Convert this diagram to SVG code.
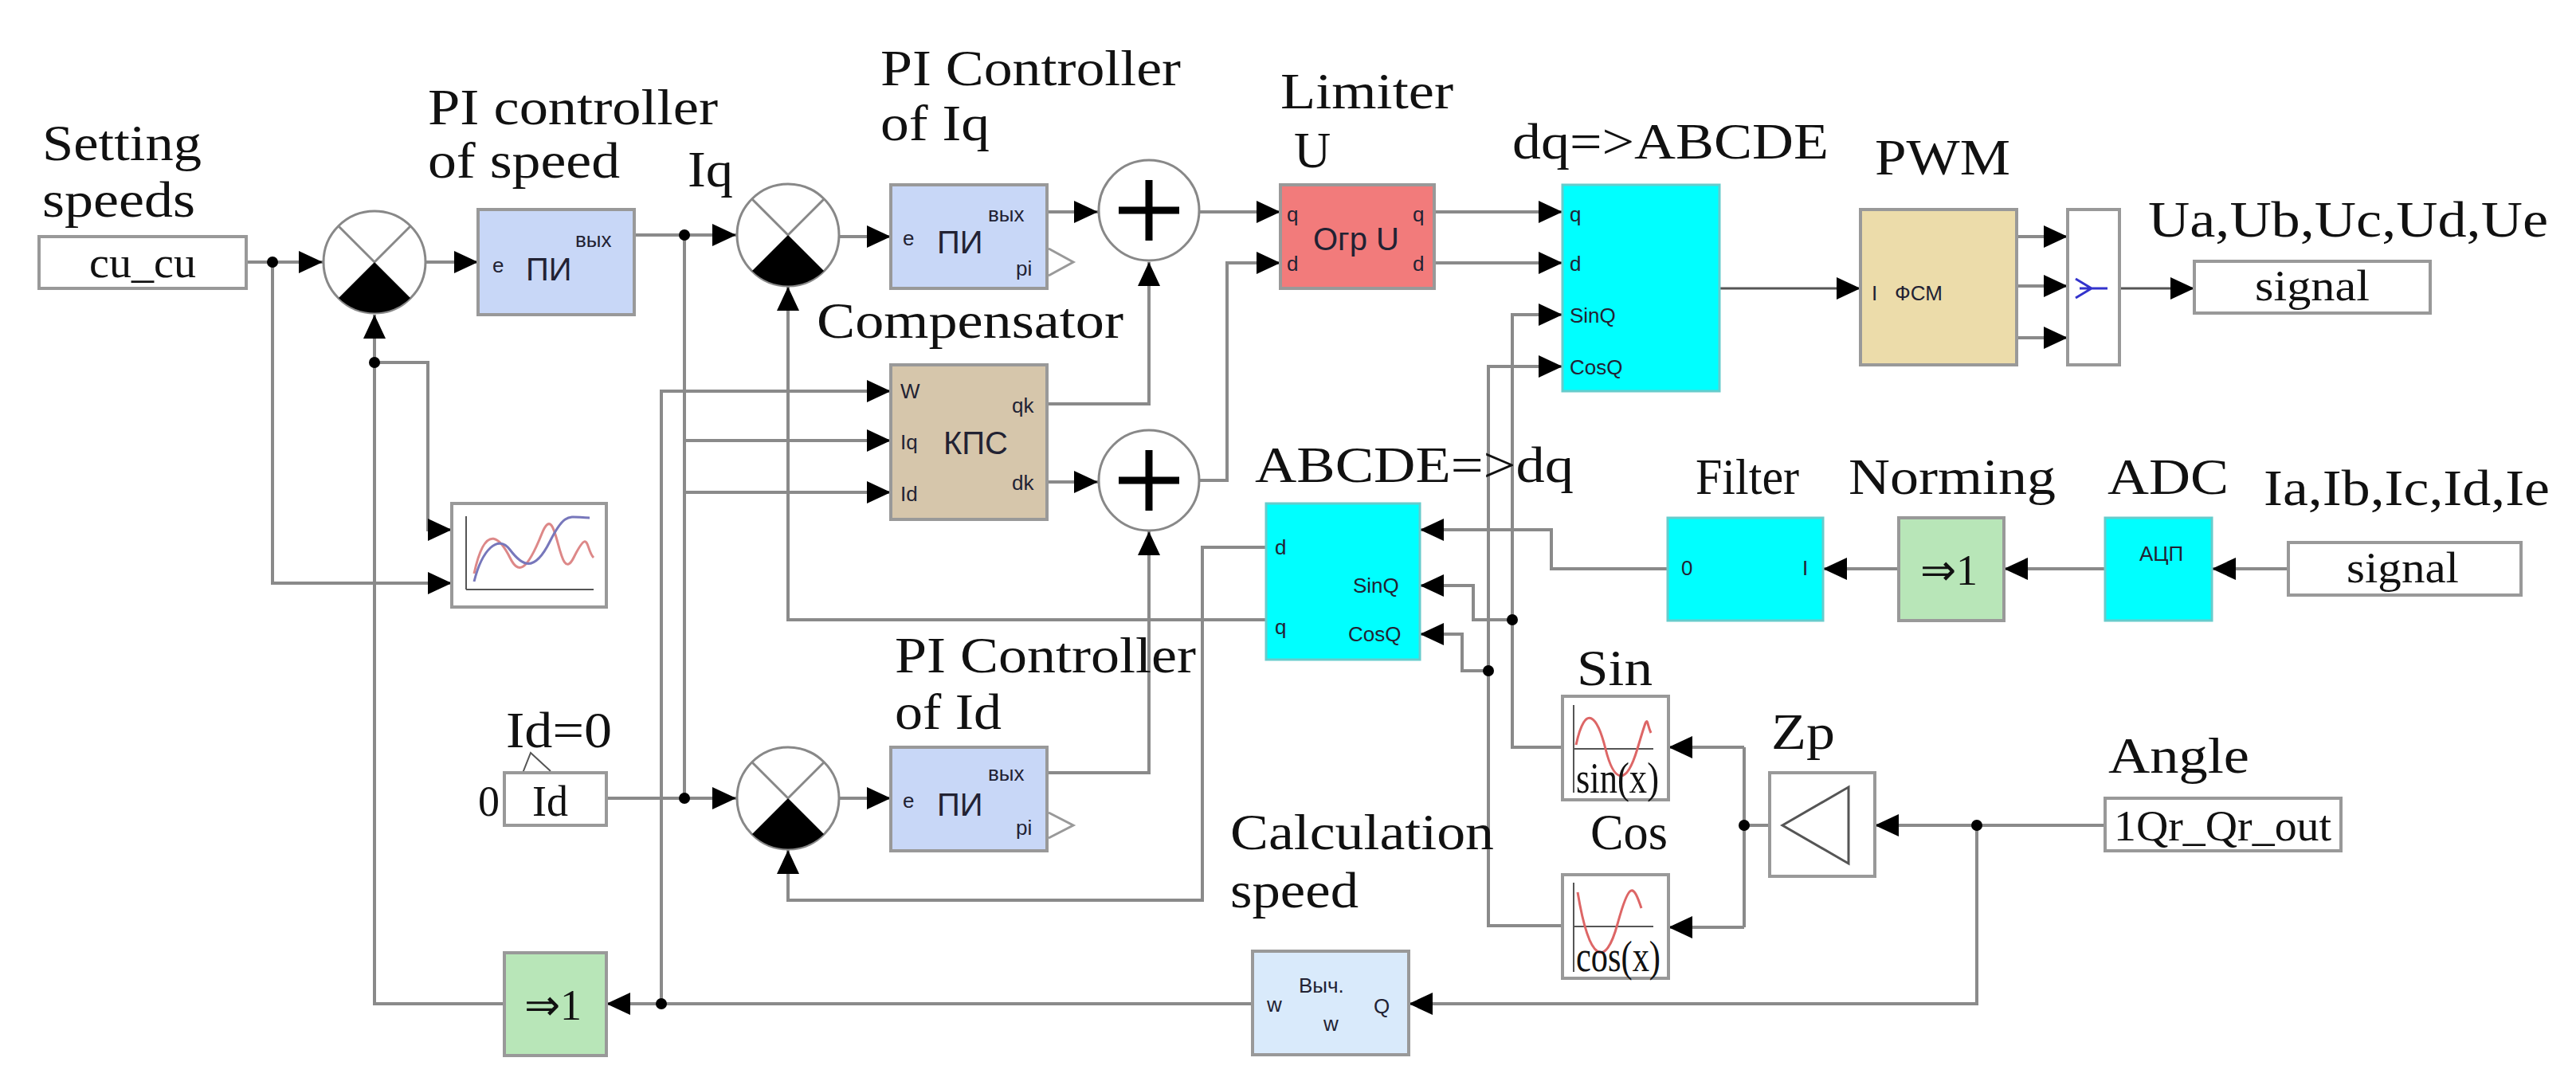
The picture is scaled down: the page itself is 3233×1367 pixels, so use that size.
<svg xmlns="http://www.w3.org/2000/svg" width="3233" height="1367" viewBox="0 0 3233 1367">
<style>
.t{font-family:"Liberation Serif",serif;font-size:64px;fill:#111}
.bt{font-family:"Liberation Serif",serif;font-size:54px;fill:#111}
.s{font-family:"Liberation Sans",sans-serif;font-size:26px;fill:#223}
.m{font-family:"Liberation Sans",sans-serif;font-size:40px;fill:#223}
.w{fill:none;stroke:#8a8a8a;stroke-width:4}
.wd{fill:none;stroke:#555;stroke-width:3}
.box{stroke:#999;stroke-width:4}
</style>
<defs>
<marker id="a" markerUnits="userSpaceOnUse" markerWidth="30" markerHeight="28" refX="30" refY="14" orient="auto"><path d="M0,0 L30,14 L0,28 z" fill="#000"/></marker>
<g id="sum"><circle r="64" fill="#fff" stroke="#888" stroke-width="3"/><path d="M0,0 L-45,-45 M0,0 L45,-45" stroke="#888" stroke-width="3"/><path d="M0,0 L-45,45 A64,64 0 0 0 45,45 Z" fill="#000"/></g>
<g id="plus"><circle r="63" fill="#fff" stroke="#888" stroke-width="3"/><path d="M-38,0 H38 M0,-38 V38" stroke="#000" stroke-width="9"/></g>
</defs>
<rect width="3233" height="1367" fill="#fff"/>

<g id="connectors">
<path class="w" d="M309,329 H405" marker-end="url(#a)"/>
<path class="w" d="M534,329 H600" marker-end="url(#a)"/>
<path class="w" d="M342,329 V732 H567" marker-end="url(#a)"/>
<path class="w" d="M470,455 H537 V665 H567" marker-end="url(#a)"/>
<path class="w" d="M633,1260 H470 V395" marker-end="url(#a)"/>
<path class="w" d="M796,295 H924" marker-end="url(#a)"/>
<path class="w" d="M1053,297 H1118" marker-end="url(#a)"/>
<path class="w" d="M1314,266 H1378" marker-end="url(#a)"/>
<path class="w" d="M1506,266 H1607" marker-end="url(#a)"/>
<path class="w" d="M1314,507 H1442 V329" marker-end="url(#a)"/>
<path class="w" d="M1314,605 H1378" marker-end="url(#a)"/>
<path class="w" d="M1506,603 H1540 V330 H1607" marker-end="url(#a)"/>
<path class="w" d="M1314,970 H1442 V667" marker-end="url(#a)"/>
<path class="w" d="M859,295 V1002"/>
<path class="w" d="M859,553 H1118" marker-end="url(#a)"/>
<path class="w" d="M859,618 H1118" marker-end="url(#a)"/>
<path class="w" d="M830,1260 V491 H1118" marker-end="url(#a)"/>
<path class="w" d="M1589,778 H989 V360" marker-end="url(#a)"/>
<path class="w" d="M761,1002 H924" marker-end="url(#a)"/>
<path class="w" d="M1053,1002 H1118" marker-end="url(#a)"/>
<path class="w" d="M1589,687 H1509 V1130 H989 V1067" marker-end="url(#a)"/>
<path class="w" d="M1800,266 H1961" marker-end="url(#a)"/>
<path class="w" d="M1800,330 H1961" marker-end="url(#a)"/>
<path class="w" d="M1961,938 H1898 V395 H1961" marker-end="url(#a)"/>
<path class="w" d="M1961,1162 H1868 V460 H1961" marker-end="url(#a)"/>
<path class="w" d="M1898,778 H1849 V735 H1782" marker-end="url(#a)"/>
<path class="w" d="M1868,842 H1835 V796 H1782" marker-end="url(#a)"/>
<path class="w" d="M2093,714 H1947 V665 H1782" marker-end="url(#a)"/>
<path class="wd" d="M2158,362 H2335" marker-end="url(#a)"/>
<path class="w" d="M2531,297 H2595" marker-end="url(#a)"/>
<path class="w" d="M2531,359 H2595" marker-end="url(#a)"/>
<path class="w" d="M2531,424 H2595" marker-end="url(#a)"/>
<path class="wd" d="M2660,362 H2754" marker-end="url(#a)"/>
<path class="w" d="M2383,714 H2288" marker-end="url(#a)"/>
<path class="w" d="M2642,714 H2515" marker-end="url(#a)"/>
<path class="w" d="M2872,714 H2776" marker-end="url(#a)"/>
<path class="w" d="M2642,1036 H2353" marker-end="url(#a)"/>
<path class="w" d="M2221,1036 H2189"/>
<path class="w" d="M2189,938 V1164"/>
<path class="w" d="M2189,938 H2094" marker-end="url(#a)"/>
<path class="w" d="M2189,1164 H2094" marker-end="url(#a)"/>
<path class="w" d="M2481,1036 V1260 H1768" marker-end="url(#a)"/>
<path class="w" d="M1572,1260 H761" marker-end="url(#a)"/>
<g fill="#000">
<circle cx="342" cy="329" r="7"/><circle cx="470" cy="455" r="7"/><circle cx="859" cy="295" r="7"/>
<circle cx="859" cy="1002" r="7"/><circle cx="830" cy="1260" r="7"/><circle cx="1898" cy="778" r="7"/>
<circle cx="1868" cy="842" r="7"/><circle cx="2189" cy="1036" r="7"/><circle cx="2481" cy="1036" r="7"/>
</g>
</g>

<g id="setting"><text class="t" x="53" y="201" textLength="200" lengthAdjust="spacingAndGlyphs">Setting</text><text class="t" x="53" y="272" textLength="192" lengthAdjust="spacingAndGlyphs">speeds</text>
<rect x="49" y="297" width="260" height="65" fill="#fff" class="box"/><text class="bt" x="112" y="348" textLength="134" lengthAdjust="spacingAndGlyphs">cu_cu</text></g>

<g id="sum1"><use href="#sum" x="470" y="329"/></g>
<g id="sum2"><use href="#sum" x="989" y="295"/></g>
<g id="sum3"><use href="#sum" x="989" y="1002"/></g>
<g id="plus1"><use href="#plus" x="1442" y="264"/></g>
<g id="plus2"><use href="#plus" x="1442" y="603"/></g>

<g id="pi-speed"><text class="t" x="537" y="156" textLength="364" lengthAdjust="spacingAndGlyphs">PI controller</text><text class="t" x="537" y="223" textLength="241" lengthAdjust="spacingAndGlyphs">of speed</text>
<rect x="600" y="263" width="196" height="132" fill="#c8d7f7" class="box"/>
<text class="s" x="618" y="342">e</text><text class="m" x="660" y="352">ПИ</text><text class="s" x="722" y="310">вых</text></g>
<g id="iq-label"><text class="t" x="863" y="234" textLength="57" lengthAdjust="spacingAndGlyphs">Iq</text></g>

<g id="scope"><rect x="567" y="632" width="194" height="130" fill="#fff" class="box"/>
<path d="M585,740 V648 M585,740 H745" stroke="#555" stroke-width="2" fill="none"/>
<path d="M595,720 C610,650 630,680 640,700 S660,720 680,670 S700,740 720,700 S735,690 745,700" stroke="#d88" stroke-width="3" fill="none"/>
<path d="M595,730 C605,690 625,670 640,690 S670,720 690,680 S715,650 740,650" stroke="#77b" stroke-width="3" fill="none"/></g>

<g id="pi-iq"><text class="t" x="1105" y="107" textLength="377" lengthAdjust="spacingAndGlyphs">PI Controller</text><text class="t" x="1105" y="176" textLength="137" lengthAdjust="spacingAndGlyphs">of Iq</text>
<rect x="1118" y="232" width="196" height="130" fill="#c8d7f7" class="box"/>
<text class="s" x="1133" y="308">e</text><text class="m" x="1176" y="318">ПИ</text><text class="s" x="1240" y="278">вых</text><text class="s" x="1275" y="346">pi</text>
<path d="M1316,312 L1347,329 L1316,346" fill="none" stroke="#999" stroke-width="3"/></g>

<g id="compensator"><text class="t" x="1025" y="424" textLength="385" lengthAdjust="spacingAndGlyphs">Compensator</text>
<rect x="1118" y="458" width="196" height="194" fill="#d6c6ab" class="box"/>
<text class="s" x="1130" y="500">W</text><text class="s" x="1130" y="564">Iq</text><text class="s" x="1130" y="629">Id</text>
<text class="m" x="1184" y="570">КПС</text><text class="s" x="1270" y="518">qk</text><text class="s" x="1270" y="615">dk</text></g>

<g id="limiter"><text class="t" x="1607" y="136" textLength="217" lengthAdjust="spacingAndGlyphs">Limiter</text><text class="t" x="1624" y="210">U</text>
<rect x="1607" y="232" width="193" height="130" fill="#f27b7b" class="box"/>
<text class="s" x="1615" y="278" fill="#522">q</text><text class="s" x="1615" y="340" fill="#522">d</text>
<text class="s" x="1773" y="278" fill="#522">q</text><text class="s" x="1773" y="340" fill="#522">d</text>
<text class="m" x="1648" y="314" font-size="36" fill="#522">Огр U</text></g>

<g id="dq-abcde"><text class="t" x="1898" y="199" textLength="397" lengthAdjust="spacingAndGlyphs">dq=&gt;ABCDE</text>
<rect x="1961" y="232" width="197" height="259" fill="#00ffff" stroke="#6cc" stroke-width="3"/>
<text class="s" x="1970" y="278" fill="#276">q</text><text class="s" x="1970" y="340" fill="#276">d</text><text class="s" x="1970" y="405" fill="#276">SinQ</text><text class="s" x="1970" y="470" fill="#276">CosQ</text></g>

<g id="pwm"><text class="t" x="2353" y="219" textLength="170" lengthAdjust="spacingAndGlyphs">PWM</text>
<rect x="2335" y="263" width="196" height="195" fill="#ecdcaa" class="box"/>
<text class="s" x="2349" y="377" font-family="Liberation Serif" font-size="32">I</text><text class="s" x="2378" y="377" font-size="32">ФСМ</text></g>

<g id="mux"><rect x="2595" y="263" width="65" height="195" fill="#fff" class="box"/>
<path d="M2605,350 L2625,362 M2605,374 L2625,362 M2610,362 H2645" stroke="#33c" stroke-width="3" fill="none"/></g>

<g id="out-signal"><text class="t" x="2696" y="297" textLength="502" lengthAdjust="spacingAndGlyphs">Ua,Ub,Uc,Ud,Ue</text>
<rect x="2754" y="328" width="296" height="65" fill="#fff" class="box"/><text class="bt" x="2830" y="377" textLength="144" lengthAdjust="spacingAndGlyphs">signal</text></g>

<g id="abcde-dq"><text class="t" x="1575" y="605" textLength="400" lengthAdjust="spacingAndGlyphs">ABCDE=&gt;dq</text>
<rect x="1589" y="632" width="193" height="196" fill="#00ffff" stroke="#6cc" stroke-width="3"/>
<text class="s" x="1600" y="696" fill="#276">d</text><text class="s" x="1600" y="796" fill="#276">q</text>
<text class="s" x="1698" y="744" fill="#276">SinQ</text><text class="s" x="1692" y="805" fill="#276">CosQ</text></g>

<g id="filter"><text class="t" x="2128" y="620" textLength="130" lengthAdjust="spacingAndGlyphs">Filter</text>
<rect x="2093" y="650" width="195" height="129" fill="#00ffff" stroke="#6cc" stroke-width="3"/>
<text class="s" x="2110" y="722" font-size="18" fill="#276">0</text><text class="s" x="2262" y="722" font-size="18" fill="#276">I</text></g>

<g id="norming"><text class="t" x="2320" y="620" textLength="260" lengthAdjust="spacingAndGlyphs">Norming</text>
<rect x="2383" y="650" width="132" height="129" fill="#b8e6b8" class="box"/><text class="bt" x="2410" y="734" font-size="58">⇒1</text></g>

<g id="adc"><text class="t" x="2645" y="620" textLength="152" lengthAdjust="spacingAndGlyphs">ADC</text>
<rect x="2642" y="650" width="134" height="129" fill="#00ffff" stroke="#6cc" stroke-width="3"/><text class="s" x="2685" y="704" font-size="18" fill="#276">АЦП</text></g>

<g id="in-signal"><text class="t" x="2841" y="634" textLength="359" lengthAdjust="spacingAndGlyphs">Ia,Ib,Ic,Id,Ie</text>
<rect x="2872" y="681" width="292" height="66" fill="#fff" class="box"/><text class="bt" x="2945" y="731" textLength="141" lengthAdjust="spacingAndGlyphs">signal</text></g>

<g id="id-ref"><text class="t" x="635" y="938" textLength="133" lengthAdjust="spacingAndGlyphs">Id=0</text>
<path d="M649,988 L666,945 L691,968" fill="none" stroke="#555" stroke-width="2"/>
<text class="bt" x="600" y="1024" fill="#22c">0</text>
<rect x="633" y="970" width="128" height="66" fill="#fff" class="box"/><text class="bt" x="668" y="1024">Id</text></g>

<g id="pi-id"><text class="t" x="1123" y="844" textLength="378" lengthAdjust="spacingAndGlyphs">PI Controller</text><text class="t" x="1123" y="915" textLength="134" lengthAdjust="spacingAndGlyphs">of Id</text>
<rect x="1118" y="938" width="196" height="130" fill="#c8d7f7" class="box"/>
<text class="s" x="1133" y="1014">e</text><text class="m" x="1176" y="1024">ПИ</text><text class="s" x="1240" y="980">вых</text><text class="s" x="1275" y="1048">pi</text>
<path d="M1316,1020 L1347,1036 L1316,1052" fill="none" stroke="#999" stroke-width="3"/></g>

<g id="sin"><text class="t" x="1979" y="860" textLength="95" lengthAdjust="spacingAndGlyphs">Sin</text>
<rect x="1961" y="874" width="133" height="130" fill="#fff" class="box"/>
<path d="M1975,995 V885 M1975,940 H2075" stroke="#555" stroke-width="2" fill="none"/>
<path d="M1978,935 C1990,880 2005,900 2015,940 S2040,990 2055,940 S2065,905 2072,920" stroke="#d66" stroke-width="3" fill="none"/>
<text class="bt" x="1978" y="995" font-size="32" textLength="104" lengthAdjust="spacingAndGlyphs">sin(x)</text></g>

<g id="cos"><text class="t" x="1996" y="1066" textLength="97" lengthAdjust="spacingAndGlyphs">Cos</text>
<rect x="1961" y="1098" width="133" height="130" fill="#fff" class="box"/>
<path d="M1975,1220 V1108 M1975,1163 H2075" stroke="#555" stroke-width="2" fill="none"/>
<path d="M1980,1120 C1995,1210 2015,1215 2030,1160 S2050,1110 2060,1140" stroke="#d66" stroke-width="3" fill="none"/>
<text class="bt" x="1978" y="1219" font-size="32" textLength="106" lengthAdjust="spacingAndGlyphs">cos(x)</text></g>

<g id="zp"><text class="t" x="2223" y="940" textLength="80" lengthAdjust="spacingAndGlyphs">Zp</text>
<rect x="2221" y="970" width="132" height="130" fill="#fff" class="box"/>
<path d="M2237,1036 L2320,988 L2320,1084 Z" fill="none" stroke="#555" stroke-width="3"/></g>

<g id="angle"><text class="t" x="2646" y="970" textLength="177" lengthAdjust="spacingAndGlyphs">Angle</text>
<rect x="2642" y="1002" width="296" height="66" fill="#fff" class="box"/><text class="bt" x="2653" y="1055" textLength="273" lengthAdjust="spacingAndGlyphs">1Qr_Qr_out</text></g>

<g id="calc-speed"><text class="t" x="1544" y="1066" textLength="331" lengthAdjust="spacingAndGlyphs">Calculation</text><text class="t" x="1544" y="1139" textLength="161" lengthAdjust="spacingAndGlyphs">speed</text>
<rect x="1572" y="1194" width="196" height="130" fill="#d9eafb" class="box"/>
<text class="s" x="1590" y="1270" font-size="30">w</text><text class="s" x="1630" y="1246" font-size="34">Выч.</text><text class="s" x="1661" y="1294" font-size="30">w</text><text class="s" x="1724" y="1272" font-size="34">Q</text></g>

<g id="norm-speed"><rect x="633" y="1196" width="128" height="129" fill="#b8e6b8" class="box"/><text class="bt" x="658" y="1280" font-size="58">⇒1</text></g>
</svg>
